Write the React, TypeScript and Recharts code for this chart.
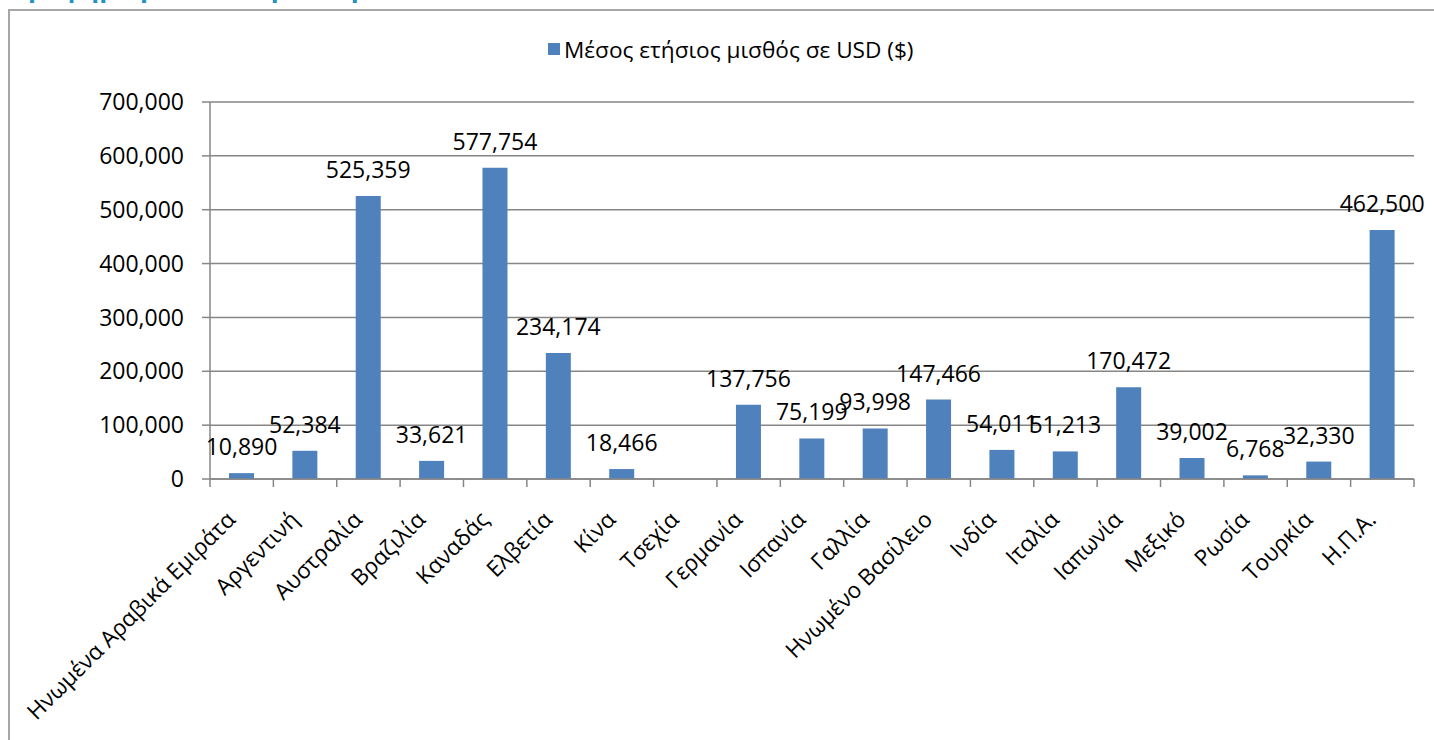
import React from 'react';
import { BarChart, Bar, XAxis, YAxis, CartesianGrid, LabelList } from 'recharts';

const categories = [
  'Ηνωμένα Αραβικά Εμιράτα',
  'Αργεντινή',
  'Αυστραλία',
  'Βραζιλία',
  'Καναδάς',
  'Ελβετία',
  'Κίνα',
  'Τσεχία',
  'Γερμανία',
  'Ισπανία',
  'Γαλλία',
  'Ηνωμένο Βασίλειο',
  'Ινδία',
  'Ιταλία',
  'Ιαπωνία',
  'Μεξικό',
  'Ρωσία',
  'Τουρκία',
  'Η.Π.Α.',
];

const salaries: (number | null)[] = [
  10890, 52384, 525359, 33621, 577754, 234174, 18466, null, 137756, 75199,
  93998, 147466, 54011, 51213, 170472, 39002, 6768, 32330, 462500,
];

const yTicks = [0, 100000, 200000, 300000, 400000, 500000, 600000, 700000];

const seriesName = 'Μέσος ετήσιος μισθός σε USD ($)';
const titleText = 'Γράφημα μέσων ετήσιων μισθών 3';

const data = categories.map((c, i) => ({ country: c, salary: salaries[i] }));

const FONT = '"Open Sans", "Noto Sans", "DejaVu Sans", sans-serif';
const BAR_COLOR = '#4f81bd';
const GRID = '#868686';

const CHART_W = 1434;
const CHART_H = 740;
const PLOT_LEFT = 210;
const PLOT_RIGHT = 1414;
const HALF_BAND = (PLOT_RIGHT - PLOT_LEFT) / categories.length / 2;

const fmt = (v: any) => (v == null || v === '' ? '' : Number(v).toLocaleString('en-US'));

const CategoryTick = (props: any) => {
  const { x, y, payload, index } = props;
  const isLast = index === categories.length - 1;
  const ax = x - 5;
  const ay = y + 42;
  return (
    <g>
      <line x1={x - HALF_BAND} y1={y} x2={x - HALF_BAND} y2={y + 8} stroke={GRID} strokeWidth={1.5} />
      {isLast && (
        <line x1={x + HALF_BAND} y1={y} x2={x + HALF_BAND} y2={y + 8} stroke={GRID} strokeWidth={1.5} />
      )}
      <text
        x={ax}
        y={ay}
        textAnchor="end"
        transform={`rotate(-45 ${ax} ${ay})`}
        fontSize={22.5}
        fontFamily={FONT}
        fill="#000"
      >
        {payload.value}
      </text>
    </g>
  );
};

export default function App() {
  return (
    <div
      style={{
        position: 'fixed',
        left: 0,
        top: 0,
        width: CHART_W,
        height: CHART_H,
        overflow: 'hidden',
        background: '#fff',
        fontFamily: FONT,
      }}
    >
      <svg style={{ position: 'absolute', left: 0, top: 0 }} width={600} height={20}>
        <text x={14} y={-3} fontSize={26} fontWeight="bold" fill="#1e93c4" fontFamily={FONT}>
          {titleText}
        </text>
      </svg>
      <div
        style={{
          position: 'absolute',
          left: 8,
          top: 9,
          width: 1460,
          height: 800,
          border: '2px solid #a6a6a6',
          boxSizing: 'border-box',
        }}
      />
      <div
        style={{
          position: 'absolute',
          left: 548,
          top: 33,
          height: 32,
          display: 'flex',
          alignItems: 'center',
          whiteSpace: 'nowrap',
        }}
      >
        <span style={{ display: 'inline-block', width: 12, height: 12, background: BAR_COLOR, marginRight: 4 }} />
        <span style={{ fontSize: 22.6, color: '#000' }}>{seriesName}</span>
      </div>
      <div style={{ position: 'absolute', left: 0, top: 0 }}>
        <BarChart
          width={CHART_W}
          height={CHART_H}
          data={data}
          margin={{ top: 102, right: CHART_W - PLOT_RIGHT, bottom: 11, left: 0 }}
        >
          <CartesianGrid horizontal vertical={false} stroke={GRID} strokeWidth={1.5} />
          <XAxis
            dataKey="country"
            interval={0}
            height={250}
            tickSize={0}
            tickMargin={0}
            tickLine={false}
            axisLine={{ stroke: GRID, strokeWidth: 1.5 }}
            tick={<CategoryTick />}
          />
          <YAxis
            width={PLOT_LEFT}
            domain={[0, 700000]}
            ticks={yTicks}
            interval={0}
            tickSize={8}
            tickMargin={18}
            tickFormatter={fmt}
            axisLine={{ stroke: GRID, strokeWidth: 1.5 }}
            tickLine={{ stroke: GRID, strokeWidth: 1.5 }}
            tick={{ fontSize: 23, fill: '#000', fontFamily: FONT }}
          />
          <Bar dataKey="salary" name={seriesName} fill={BAR_COLOR} barSize={25} isAnimationActive={false}>
            <LabelList
              dataKey="salary"
              position="top"
              offset={18}
              formatter={fmt}
              fill="#000"
              fontSize={23}
              fontFamily={FONT}
            />
          </Bar>
        </BarChart>
      </div>
    </div>
  );
}
